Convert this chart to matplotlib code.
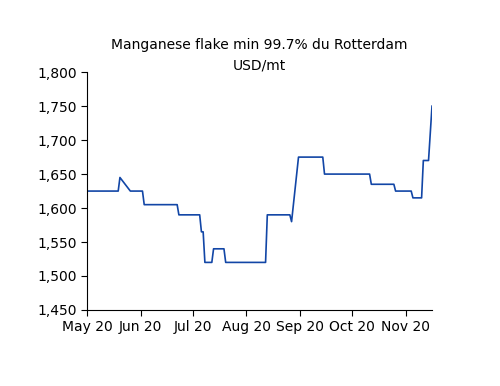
import matplotlib
matplotlib.use("Agg")
import matplotlib.pyplot as plt
import matplotlib.dates as mdates
import pandas as pd

# Change points of the price series (USD/mt)
dates = [
    "2020-05-01", "2020-05-19", "2020-05-20", "2020-05-26", "2020-06-02",
    "2020-06-03", "2020-06-22", "2020-06-23", "2020-07-05", "2020-07-06",
    "2020-07-07", "2020-07-08", "2020-07-12", "2020-07-13", "2020-07-19",
    "2020-07-20", "2020-08-12", "2020-08-13", "2020-08-26", "2020-08-27",
    "2020-08-31", "2020-09-14", "2020-09-15", "2020-10-11", "2020-10-12",
    "2020-10-25", "2020-10-26", "2020-11-04", "2020-11-05", "2020-11-10",
    "2020-11-11", "2020-11-14", "2020-11-16",
]
prices = [
    1625, 1625, 1645, 1625, 1625,
    1605, 1605, 1590, 1590, 1565,
    1565, 1520, 1520, 1540, 1540,
    1520, 1520, 1590, 1590, 1580,
    1675, 1675, 1650, 1650, 1635,
    1635, 1625, 1625, 1615, 1615,
    1670, 1670, 1750,
]
month_ticks = ["2020-05-01", "2020-06-01", "2020-07-01", "2020-08-01",
               "2020-09-01", "2020-10-01", "2020-11-01"]

x = pd.to_datetime(dates)

fig = plt.figure(figsize=(5, 3.86), dpi=100)
ax = fig.add_axes([0.174, 0.197, 0.69, 0.616])

ax.plot(x, prices, color="#1246a6", linewidth=1.2)

ax.set_xlim(pd.Timestamp("2020-05-01"), pd.Timestamp("2020-11-16"))
ax.set_ylim(1450, 1800)
ax.set_yticks(range(1450, 1801, 50))
ax.yaxis.set_major_formatter(matplotlib.ticker.StrMethodFormatter("{x:,.0f}"))
ax.set_xticks(pd.to_datetime(month_ticks))
ax.xaxis.set_major_formatter(mdates.DateFormatter("%b %y"))

for s in ["top", "right"]:
    ax.spines[s].set_visible(False)
ax.tick_params(labelsize=10, length=4, width=0.8, direction="out")

ax.set_title("Manganese flake min 99.7% du Rotterdam\nUSD/mt", fontsize=10,
             pad=2, linespacing=1.55)

fig.savefig("out.png", dpi=100)
